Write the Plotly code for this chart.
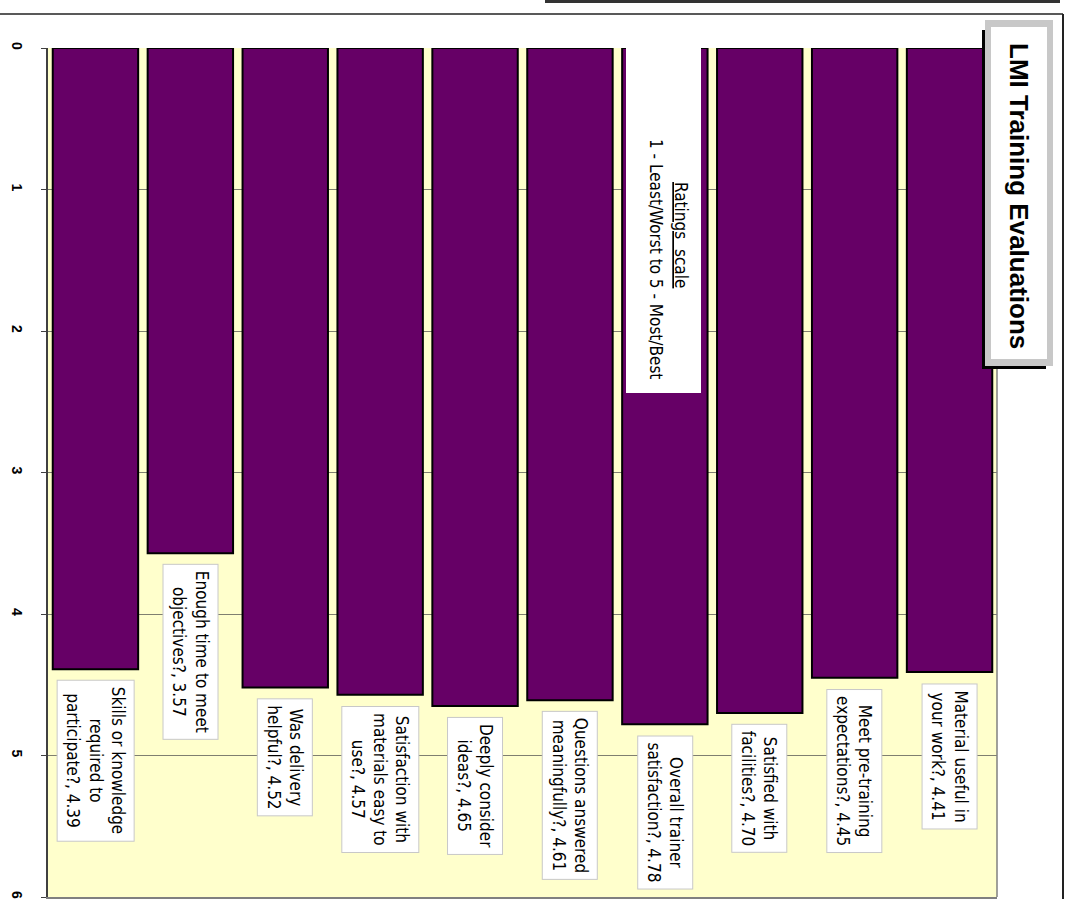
import plotly.graph_objects as go

# Survey questions, wrapped the way the value labels break their lines
questions = [
    "Skills or knowledge<br>required to<br>participate?",
    "Enough time to meet<br>objectives?",
    "Was delivery<br>helpful?",
    "Satisfaction with<br>materials easy to<br>use?",
    "Deeply consider<br>ideas?",
    "Questions answered<br>meaningfully?",
    "Overall trainer<br>satisfaction?",
    "Satisfied with<br>facilities?",
    "Meet pre-training<br>expectations?",
    "Material useful in<br>your work?",
]
# Average rating for each question
ratings = [4.39, 3.57, 4.52, 4.57, 4.65, 4.61, 4.78, 4.70, 4.45, 4.41]
# Value-axis ticks
rating_ticks = [0, 1, 2, 3, 4, 5, 6]

title_text = "LMI Training Evaluations"
scale_heading = "Ratings  scale"
scale_note = "1 - Least/Worst to 5 - Most/Best"

# Page and plot-area geometry (pixels)
W, H = 1070, 899
PL, PR, PT, PB = 48, 997, 48, 897

NARROW = "DejaVu Sans Condensed, Liberation Sans Narrow, Arial Narrow, sans-serif"
SANS = "Liberation Sans, Arial, sans-serif"


def px(x):
    """pixel column -> paper x"""
    return (x - PL) / (PR - PL)


def py(y):
    """pixel row -> paper y"""
    return (PB - y) / (PB - PT)


fig = go.Figure(
    go.Bar(
        x=questions,
        y=ratings,
        marker=dict(color="#660066", line=dict(color="#000000", width=2)),
        hoverinfo="skip",
    )
)

# Value labels below each bar end, rotated with the chart
annotations = []
for q, v in zip(questions, ratings):
    annotations.append(dict(
        x=q, y=v, xref="x", yref="y",
        text=f"{q}, {v:.2f}",
        textangle=90, showarrow=False,
        xanchor="center", yanchor="top", yshift=-11,
        align="center",
        bgcolor="#ffffff", bordercolor="#c8c8c8", borderwidth=1, borderpad=6,
        font=dict(family=NARROW, size=17, color="#000000"),
    ))

# Ratings scale note
annotations.append(dict(
    x=px(681), y=py(235), xref="paper", yref="paper",
    text=f"<u>{scale_heading}</u>", textangle=90, showarrow=False,
    xanchor="center", yanchor="middle",
    font=dict(family=NARROW, size=17, color="#000000"),
))
annotations.append(dict(
    x=px(656), y=py(259), xref="paper", yref="paper",
    text=scale_note, textangle=90, showarrow=False,
    xanchor="center", yanchor="middle",
    font=dict(family=NARROW, size=17, color="#000000"),
))

# Chart title
annotations.append(dict(
    x=px(1019), y=py(196), xref="paper", yref="paper",
    text=f"<b>{title_text}</b>", textangle=90, showarrow=False,
    xanchor="center", yanchor="middle",
    font=dict(family=SANS, size=26, color="#000000"),
))

shapes = [
    # dark rule along the very top of the page
    dict(type="rect", xref="paper", yref="paper",
         x0=px(545), x1=px(1060), y0=py(0), y1=py(3),
         fillcolor="#333333", line=dict(width=0), layer="above"),
    # outer chart frame
    dict(type="line", xref="paper", yref="paper",
         x0=px(0), x1=px(1063), y0=py(14), y1=py(14),
         line=dict(color="#222222", width=1.5)),
    dict(type="line", xref="paper", yref="paper",
         x0=px(1063), x1=px(1063), y0=py(14), y1=py(905),
         line=dict(color="#222222", width=2)),
    # right edge of the plot area
    dict(type="line", xref="paper", yref="paper",
         x0=1, x1=1, y0=0, y1=1,
         line=dict(color="#808080", width=1.5), layer="above"),
    # white panel behind the ratings scale note
    dict(type="rect", xref="paper", yref="paper",
         x0=px(626), x1=px(701), y0=py(393), y1=py(44),
         fillcolor="#ffffff", line=dict(width=0), layer="above"),
    # title box: shadow, grey frame, white face
    dict(type="rect", xref="paper", yref="paper",
         x0=px(982), x1=px(1046), y0=py(369), y1=py(30),
         fillcolor="#000000", line=dict(width=0), layer="above"),
    dict(type="rect", xref="paper", yref="paper",
         x0=px(985), x1=px(1053), y0=py(366), y1=py(20),
         fillcolor="#c8c8c8", line=dict(width=0), layer="above"),
    dict(type="rect", xref="paper", yref="paper",
         x0=px(991), x1=px(1047), y0=py(359), y1=py(27),
         fillcolor="#ffffff", line=dict(width=0), layer="above"),
]

fig.update_layout(
    width=W, height=H,
    margin=dict(l=PL, r=W - PR, t=PT, b=H - PB, pad=0),
    paper_bgcolor="#ffffff",
    plot_bgcolor="#ffffcc",
    bargap=0.1,
    showlegend=False,
    annotations=annotations,
    shapes=shapes,
    xaxis=dict(
        type="category",
        showticklabels=False, ticks="",
        showgrid=False, zeroline=False,
        showline=True, linecolor="#808080", linewidth=2,
        automargin=False, fixedrange=True,
    ),
    yaxis=dict(
        range=[6, 0],
        tickvals=rating_ticks,
        ticktext=[str(t) for t in rating_ticks],
        tickangle=90,
        tickfont=dict(family=SANS, size=14, color="#000000", weight="bold"),
        ticks="outside", ticklen=5, tickcolor="#404040", tickwidth=1,
        ticklabelstandoff=12,
        ticklabeloverflow="allow",
        showline=True, linecolor="#404040", linewidth=1.5,
        showgrid=True, gridcolor="#7f7f70", gridwidth=1,
        zeroline=False, automargin=False, fixedrange=True,
    ),
)

fig.write_html("out.html", config={"displayModeBar": False})
